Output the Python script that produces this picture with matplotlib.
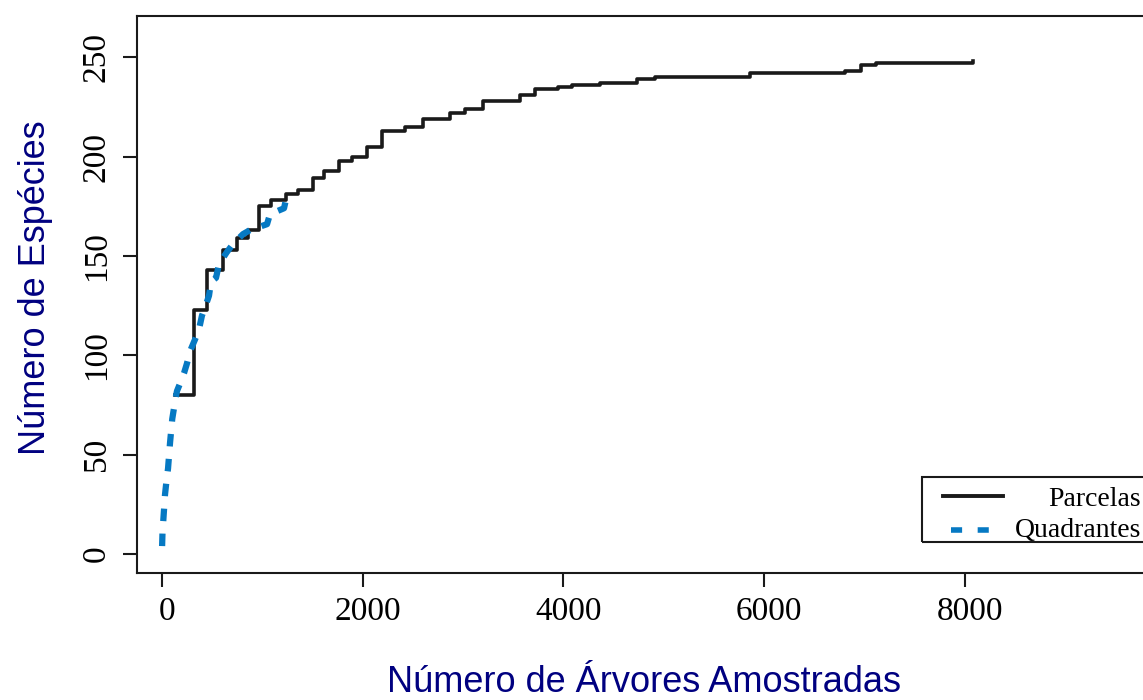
import numpy as np
import matplotlib.pyplot as plt
import matplotlib.transforms as mtransforms
from matplotlib.lines import Line2D
from matplotlib.patches import Rectangle

# Parcelas: cumulative trees and species after each plot
parc_arvores = [133, 322, 448, 607, 753, 863, 972, 1085, 1238, 1360, 1503, 1612,
                1769, 1892, 2048, 2191, 2423, 2599, 2871, 3020, 3203, 3452, 3568,
                3717, 3950, 4083, 4365, 4730, 4912, 5858, 6805, 6964, 7113, 7584, 8082]
parc_especies = [80, 123, 143, 153, 159, 163, 175, 178, 181, 183, 189, 193,
                 198, 200, 205, 213, 215, 219, 222, 224, 228, 228, 231,
                 234, 235, 236, 237, 239, 240, 242, 243, 246, 247, 247, 248]

# Quadrantes: cumulative trees and species along the point-quarter samples
quad_arvores = [4, 8, 16, 24, 33, 48, 63, 83, 105, 137, 152, 192, 222, 252, 282,
                332, 371, 401, 431, 471, 491, 541, 571, 650, 710, 810, 879, 1049,
                1078, 1218, 1240]
quad_especies = [4, 11, 17, 23, 30, 37, 43, 56, 68, 78, 82, 87, 91, 96, 102,
                 108, 113, 120, 124, 130, 137, 139, 146, 152, 156, 161, 163, 166,
                 171, 174, 179]

x_ticks = [0, 2000, 4000, 6000, 8000]
y_ticks = [0, 50, 100, 150, 200, 250]
nomes = ['Parcelas', 'Quadrantes']

preto = '#1a1a1a'
azul = '#0679c3'
marinho = '#000080'
serif = 'Liberation Serif'
sans = 'Liberation Sans'

W, H = 1143, 700
fig = plt.figure(figsize=(W / 100, H / 100), dpi=100)
ax = fig.add_axes([136.7 / W, 1 - 573.3 / H, (1160 - 136.7) / W, (573.3 - 15.7) / H])

ax.plot(parc_arvores, parc_especies, drawstyle='steps-post', color=preto, lw=2.6)
ax.plot(quad_arvores, quad_especies, color=azul, lw=4.5, dashes=(2.0, 2.0),
        dash_capstyle='butt')

ax.set_xlim(-249, 9941)
ax.set_ylim(-9.7, 270.9)
ax.set_xticks(x_ticks)
ax.set_yticks(y_ticks)
ax.set_xticklabels([str(v) for v in x_ticks], fontsize=24, family=serif)
ax.set_yticklabels([str(v) for v in y_ticks], fontsize=24, family=serif,
                   rotation=90, va='center')
ax.tick_params(direction='out', length=10, width=1.5, color=preto, pad=7)
ax.tick_params(axis='y', pad=8)
for s in ax.spines.values():
    s.set_linewidth(1.5)
    s.set_color(preto)

# x tick labels sit a few pixels right of their ticks
desloc = mtransforms.ScaledTranslation(5 / 100, 0, fig.dpi_scale_trans)
for lbl in ax.get_xticklabels():
    lbl.set_transform(lbl.get_transform() + desloc)

# axis titles
fig.text(644 / W, 1 - 692 / H, 'Número de Árvores Amostradas', ha='center',
         va='baseline', fontsize=26, family=sans, color=marinho)
fig.text(45 / W, 1 - 288 / H, 'Número de Espécies', ha='center', va='baseline',
         rotation=90, rotation_mode='anchor', fontsize=26, family=sans, color=marinho)

# legend box in the lower right corner
def fpx(x, y):
    return x / W, 1 - y / H

fig.add_artist(Rectangle(fpx(922, 542), (1200 - 922) / W, (542 - 477) / H,
                         transform=fig.transFigure, fill=False, lw=1.5, ec=preto))
x0, y0 = fpx(943, 496)
x1, _ = fpx(1003, 496)
fig.add_artist(Line2D([x0, x1], [y0, y0], transform=fig.transFigure, color=preto, lw=2.8))
x0, y1 = fpx(951, 530)
x1, _ = fpx(990, 530)
fig.add_artist(Line2D([x0, x1], [y1, y1], transform=fig.transFigure, color=azul, lw=4.0,
                      dashes=(2.0, 2.8), dash_capstyle='butt'))
fig.text(*fpx(1141, 506), nomes[0], ha='right', va='baseline', fontsize=20, family=serif)
fig.text(*fpx(1141, 537), nomes[1], ha='right', va='baseline', fontsize=20, family=serif)

fig.savefig('out.png', dpi=100)
